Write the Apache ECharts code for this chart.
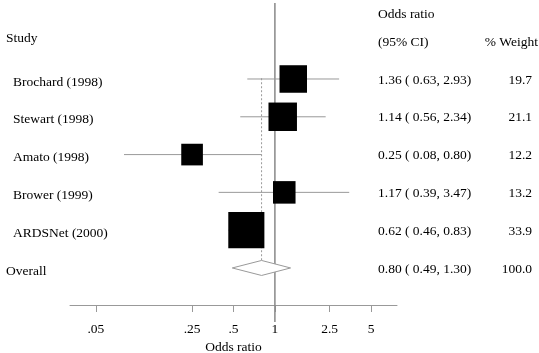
<!DOCTYPE html>
<html>
<head>
<meta charset="utf-8">
<script src="https://cdn.jsdelivr.net/npm/echarts@6/dist/echarts.min.js"></script>
<style>
  html, body { margin: 0; padding: 0; background: #fff; }
  #chart { width: 539px; height: 353px; }
</style>
</head>
<body>
<div id="chart"></div>
<script>
const studies = ['Brochard (1998)', 'Stewart (1998)', 'Amato (1998)', 'Brower (1999)', 'ARDSNet (2000)'];
const oddsRatios = [1.36, 1.14, 0.25, 1.17, 0.62];
const ciLow = [0.63, 0.56, 0.08, 0.39, 0.46];
const ciHigh = [2.93, 2.34, 0.80, 3.47, 0.83];
const weights = [19.7, 21.1, 12.2, 13.2, 33.9];

const overallOR = 0.80;
const overallLow = 0.49;
const overallHigh = 1.30;
const overallWeight = 100.0;

const tickValues = [0.05, 0.25, 0.5, 1, 2.5, 5];
const tickLabels = ['.05', '.25', '.5', '1', '2.5', '5'];

const FONT = '"Liberation Serif", "Times New Roman", serif';
const FS = 13.5;
const lg = Math.log10;
const fmt = v => v.toFixed(2);

const chart = echarts.init(document.getElementById('chart'));

// row index = position in table, overall goes below the studies
const studyData = studies.map((s, i) => [lg(oddsRatios[i]), i, lg(ciLow[i]), lg(ciHigh[i]), weights[i]]);
const overallRow = studies.length;

function txt(text, x, y, align) {
  return {
    type: 'text',
    style: { text: text, x: x, y: y, align: align || 'left', verticalAlign: 'middle', font: FS + 'px ' + FONT, fill: '#000' }
  };
}

const option = {
  animation: false,
  grid: { left: 70, right: 142, top: 0, height: 305, outerBoundsMode: 'none', containLabel: false },
  xAxis: {
    type: 'value',
    min: lg(0.0324),
    max: lg(7.72),
    splitLine: { show: false },
    axisLine: { onZero: false, lineStyle: { color: '#999', width: 1 } },
    axisTick: { customValues: tickValues.map(lg), length: 7, lineStyle: { color: '#999' } },
    axisLabel: {
      customValues: tickValues.map(lg),
      margin: 17,
      fontFamily: FONT, fontSize: FS, color: '#000',
      formatter: v => {
        const i = tickValues.findIndex(t => Math.abs(lg(t) - v) < 1e-6);
        return i >= 0 ? tickLabels[i] : '';
      }
    },
    name: 'Odds ratio',
    nameLocation: 'middle',
    nameGap: 33,
    nameTextStyle: { fontFamily: FONT, fontSize: FS, color: '#000' }
  },
  yAxis: {
    type: 'value',
    inverse: true,
    min: -2.09,
    max: 5.98,
    show: false
  },
  graphic: [
    { type: 'text', left: 6, top: 31, style: { text: 'Study', font: FS + 'px ' + FONT, fill: '#000' } },
    { type: 'text', left: 378, top: 7, style: { text: 'Odds ratio', font: FS + 'px ' + FONT, fill: '#000' } },
    { type: 'text', left: 378, top: 35, style: { text: '(95% CI)', font: FS + 'px ' + FONT, fill: '#000' } },
    { type: 'text', right: 1, top: 35, style: { text: '% Weight', font: FS + 'px ' + FONT, fill: '#000' } }
  ],
  series: [
    {
      // null line at OR = 1
      type: 'custom',
      clip: false,
      silent: true,
      data: [[lg(1), -2.01, 6.43]],
      renderItem: (params, api) => {
        const a = api.coord([api.value(0), api.value(1)]);
        const b = api.coord([api.value(0), api.value(2)]);
        return {
          type: 'line',
          shape: { x1: a[0], y1: a[1], x2: b[0], y2: b[1] },
          style: { stroke: '#888', lineWidth: 1.5 }
        };
      }
    },
    {
      type: 'custom',
      clip: false,
      silent: true,
      data: studyData,
      z: 3,
      renderItem: (params, api) => {
        const i = params.dataIndex;
        const row = api.value(1);
        const c = api.coord([api.value(0), row]);
        const lo = api.coord([api.value(2), row]);
        const hi = api.coord([api.value(3), row]);
        const side = 6.2 * Math.sqrt(api.value(4));
        return {
          type: 'group',
          children: [
            { type: 'line', shape: { x1: lo[0], y1: c[1], x2: hi[0], y2: c[1] }, style: { stroke: '#999', lineWidth: 1 } },
            { type: 'rect', shape: { x: c[0] - side / 2, y: c[1] - side / 2, width: side, height: side }, style: { fill: '#000' } },
            txt(studies[i], 13, c[1] + 3),
            txt(fmt(oddsRatios[i]) + ' ( ' + fmt(ciLow[i]) + ', ' + fmt(ciHigh[i]) + ')', 378, c[1] + 1),
            txt(weights[i].toFixed(1), 532, c[1] + 1, 'right')
          ]
        };
      }
    },
    {
      type: 'custom',
      clip: false,
      silent: true,
      z: 2,
      data: [[lg(overallOR), overallRow, lg(overallLow), lg(overallHigh), overallWeight]],
      renderItem: (params, api) => {
        const row = api.value(1);
        const c = api.coord([api.value(0), row]);
        const lo = api.coord([api.value(2), row]);
        const hi = api.coord([api.value(3), row]);
        const top = api.coord([api.value(0), -0.02]);
        const h = 7.5;
        return {
          type: 'group',
          children: [
            { type: 'line', shape: { x1: c[0], y1: top[1], x2: c[0], y2: c[1] - h }, style: { stroke: '#999', lineWidth: 1, lineDash: [2, 2] } },
            { type: 'polygon', shape: { points: [[lo[0], c[1]], [c[0], c[1] - h], [hi[0], c[1]], [c[0], c[1] + h]] }, style: { fill: '#fff', stroke: '#999', lineWidth: 1 } },
            txt('Overall', 6, c[1] + 3),
            txt(fmt(overallOR) + ' ( ' + fmt(overallLow) + ', ' + fmt(overallHigh) + ')', 378, c[1] + 1),
            txt(api.value(4).toFixed(1), 532, c[1] + 1, 'right')
          ]
        };
      }
    }
  ]
};

chart.setOption(option);
</script>
</body>
</html>
